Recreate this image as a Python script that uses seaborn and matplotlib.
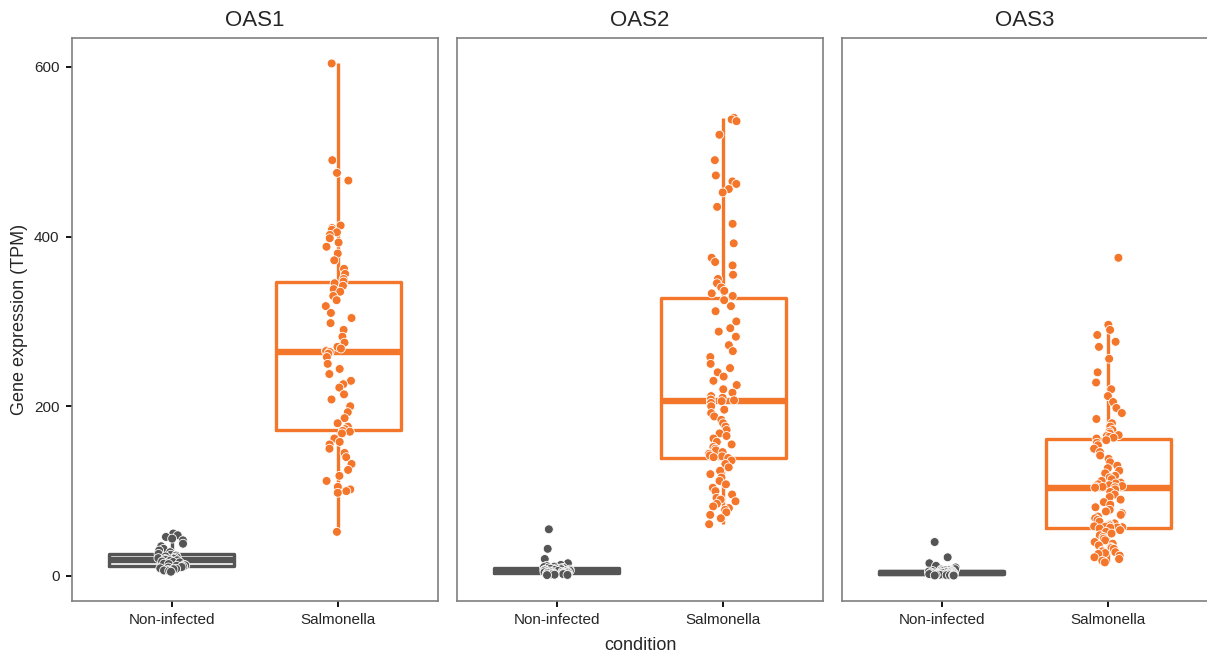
import numpy as np
import pandas as pd
import matplotlib
matplotlib.use("Agg")
import matplotlib.pyplot as plt
import seaborn as sns

# values (TPM)
genes = ["OAS1", "OAS2", "OAS3"]
conditions = ["Non-infected", "Salmonella"]
colors = ["#555555", "#F4762A"]

oas1_ni = [50, 48, 46, 44, 42, 38, 35, 32, 30, 28, 26,
           25, 24, 23, 22, 21.5, 21, 20.5, 20, 19.5, 19, 18.5, 18, 17, 16.5, 16, 15, 14.5, 14, 13, 12.5,
           12, 11, 10.5, 10, 9, 8.5, 8, 7, 6.5, 6, 5]
oas1_sal = [604, 490, 475, 466, 413, 410, 408, 405, 402, 398, 393, 388, 380, 372, 362, 356, 350, 347,
            345, 342, 338, 335, 330, 325, 318, 310, 304, 298, 290, 282, 275, 270, 268, 266, 265, 264,
            262, 258, 250, 244, 238, 230, 226, 222, 214, 208, 200, 193, 186, 180, 176, 173, 171, 170,
            168, 162, 158, 155, 150, 145, 140, 132, 125, 118, 112, 105, 102, 100, 98, 52]
oas2_ni = [55, 32, 20, 15, 13, 12, 11, 10.5, 10, 9.5, 9, 8.8, 8.5, 8, 7.5, 7.2, 7, 6.8, 6.5, 6.2, 6,
           5.8, 5.5, 5.2, 5, 4.8, 4.5, 4.3, 4.1, 4, 3.8, 3.5, 3.2, 3, 2.8, 2.5, 2.2, 2, 1.8, 1.5, 1.2, 1]
oas2_sal = [540, 538, 536, 520, 490, 472, 465, 462, 456, 452, 435, 415, 392, 375, 370, 366, 355, 350,
            345, 340, 336, 333, 330,
            325, 318, 312, 300, 292, 288, 282, 272, 265, 258, 250, 245, 240, 235, 230, 225, 220, 216,
            212, 210, 208, 207, 206,
            204, 200, 196, 192, 188, 184, 180, 176, 172, 168, 165, 162, 158, 155, 152, 150, 148, 146,
            144, 142, 141, 140, 139,
            136, 132, 128, 124, 120, 116, 112, 108, 104, 100, 96, 92, 90, 88, 85, 82, 80, 78, 75, 72,
            68, 61]
oas3_ni = [40, 22, 15, 12, 10, 8, 7.5, 7, 6.5, 6.2, 6, 5.8, 5.5, 5.2, 5, 4.8, 4.5, 4.3, 4.1, 4, 3.8,
           3.6, 3.4, 3.2, 3, 2.8, 2.6, 2.4, 2.2, 2.1, 2, 1.9, 1.8, 1.6, 1.5, 1.4, 1.2, 1, 0.9, 0.8, 0.6, 0.5]
oas3_sal = [375, 296, 290, 284, 276, 270, 256, 240, 228, 220, 212, 205, 198, 192, 185, 180, 176, 172,
            170, 168, 166, 165, 164, 163, 162,
            160, 157, 154, 150, 146, 142, 138, 134, 130, 127, 124, 121, 118, 116, 114, 112, 110, 109,
            108, 107, 106, 105.5, 105, 104.5, 104,
            102, 99, 96, 93, 90, 87, 84, 81, 78, 76, 74, 72, 70, 68, 66, 64, 62, 61, 60, 59, 58.5, 58,
            57.5, 57.2, 57,
            56, 54, 52, 50, 48, 46, 44, 42, 40, 38, 36, 34, 33, 32, 30, 29, 28, 27, 26, 24, 22, 20, 18, 16]

values = {
    "OAS1": [oas1_ni, oas1_sal],
    "OAS2": [oas2_ni, oas2_sal],
    "OAS3": [oas3_ni, oas3_sal],
}

rows = []
for g in genes:
    for cond, vals in zip(conditions, values[g]):
        for v in vals:
            rows.append((g, cond, v))
df = pd.DataFrame(rows, columns=["gene", "condition", "tpm"])

sns.set_style("white")
plt.rcParams["font.family"] = ["Liberation Sans", "DejaVu Sans"]
np.random.seed(3)

fig = plt.figure(figsize=(12.07, 6.59), dpi=100)
lefts = [72, 457, 842]
pal = dict(zip(conditions, colors))

for i, g in enumerate(genes):
    ax = fig.add_axes([lefts[i] / 1207, 1 - 601 / 659, 366 / 1207, (601 - 38) / 659])
    sub = df[df["gene"] == g]
    sns.stripplot(data=sub, x="condition", y="tpm", hue="condition", order=conditions,
                  hue_order=conditions, palette=pal, jitter=0.085, size=6.4,
                  edgecolor="white", linewidth=0.6, legend=False, ax=ax)
    sns.boxplot(data=sub, x="condition", y="tpm", hue="condition", order=conditions,
                hue_order=conditions, palette=pal, fill=False, width=0.75, linewidth=2.4,
                showfliers=False, showcaps=False, whis=1.5,
                medianprops={"linewidth": 4.6}, legend=False, ax=ax)
    ax.set_xlim(-0.6, 1.6)
    ax.set_ylim(-29.5, 634)
    ax.set_yticks([0, 200, 400, 600])
    ax.set_title(g, fontsize=16, pad=9)
    for s in ax.spines.values():
        s.set_color("#7f7f7f")
        s.set_linewidth(1.2)
    ax.tick_params(axis="both", length=4, width=1.3, color="black", labelsize=11,
                   bottom=True, left=True, pad=5)
    ax.set_xlabel("")
    if i == 0:
        ax.set_ylabel("Gene expression (TPM)", fontsize=13)
    else:
        ax.set_ylabel("")
        ax.tick_params(axis="y", left=False, labelleft=False)
    if i == 1:
        ax.set_xlabel("condition", fontsize=13, labelpad=7)

fig.savefig("out.png", dpi=100)
